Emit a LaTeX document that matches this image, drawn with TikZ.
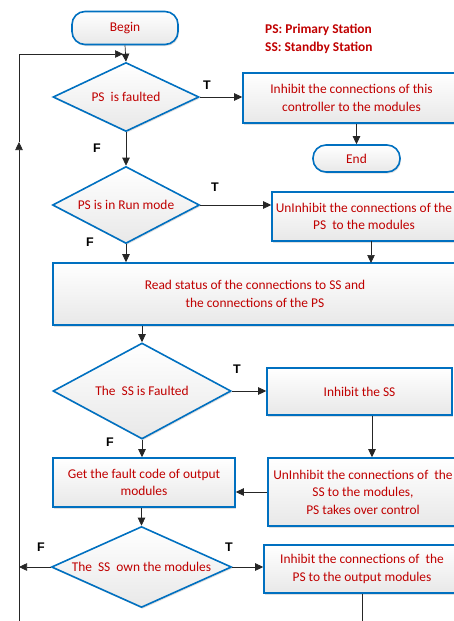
\documentclass[tikz,border=0pt]{standalone}
\usepackage{fontspec}
\setmainfont{Carlito}
\newfontfamily\lblfont{Liberation Sans}
\usetikzlibrary{arrows.meta,shapes.geometric,shadows}
\definecolor{bblue}{RGB}{0,112,192}
\definecolor{dred}{RGB}{192,0,0}
\tikzset{
  shp/.style={draw=bblue, line width=1.6pt, top color=white, bottom color=black!9,
    text=dred, font=\fontsize{13.4}{17.5}\selectfont, align=center, inner sep=1pt,
    drop shadow={shadow xshift=1pt, shadow yshift=-1.5pt, fill=black!25, opacity=0.5}},
  boxn/.style={shp, rectangle},
  term/.style={shp, rectangle, rounded corners=13pt},
  dec/.style={shp, diamond, inner sep=0pt},
  dtext/.style={text=dred, font=\fontsize{13.4}{17.5}\selectfont, align=center, inner sep=0pt},
  arr/.style={-{Triangle[length=8pt,width=7.5pt]}, line width=0.7pt, black!85},
  ln/.style={line width=0.7pt, black!85},
  lbl/.style={font=\lblfont\bfseries\fontsize{12.5}{14}\selectfont, text=black},
  legend/.style={font=\bfseries\fontsize{13.4}{16}\selectfont, text=dred, anchor=west, inner sep=0pt}
}
\begin{document}
\begin{tikzpicture}[x=1pt,y=-1pt]
\useasboundingbox (0,0) rectangle (454,621);
\clip (0,0) rectangle (454,621);
% nodes
\node[term, minimum width=106pt, minimum height=33pt] (begin) at (125,28) {Begin};
\node[legend] (leg1) at (265,30) {PS: Primary Station};
\node[legend] (leg2) at (265,48) {SS: Standby Station};
\node[dec, minimum width=146pt, minimum height=69pt] (d1) at (126,97) {};
\node[dtext] (d1t) at (d1) {PS\ \ is faulted};
\node[boxn, minimum width=217pt, minimum height=50pt] (b1) at (351.5,98) {Inhibit the connections of this\\controller to the modules};
\node[term, minimum width=87pt, minimum height=27pt] (end) at (356.5,158.5) {End};
\node[dec, minimum width=147pt, minimum height=77pt] (d2) at (126,205) {};
\node[dtext] (d2t) at (d2) {PS is in Run mode};
\node[boxn, minimum width=184pt, minimum height=49pt] (b2) at (364,216.5) {UnInhibit the connections of the\\PS\ \ to the modules};
\node[boxn, minimum width=404pt, minimum height=62pt] (b3) at (255,294) {Read status of the connections to SS and\\the connections of the PS};
\node[dec, minimum width=178pt, minimum height=96pt] (d3) at (142,391) {};
\node[dtext] (d3t) at (d3) {The\ \ SS is Faulted};
\node[boxn, minimum width=185pt, minimum height=47pt] (b4) at (359.5,391.5) {Inhibit the SS};
\node[boxn, minimum width=182pt, minimum height=49pt] (b6) at (144,482.5) {Get the fault code of output\\modules};
\node[boxn, minimum width=190pt, minimum height=68pt] (b5) at (363,492) {UnInhibit the connections of\ \ the\\SS to the modules,\\PS takes over control};
\node[dec, minimum width=180pt, minimum height=81pt] (d4) at (141.5,567) {};
\node[dtext] (d4t) at (d4) {The\ \ SS\ \ own the modules};
\node[boxn, minimum width=196pt, minimum height=48pt] (b7) at (362,569) {Inhibit the connections of\ \ the\\PS to the output modules};
% labels
\node[lbl] (t1) at (207,85) {T};
\node[lbl] (f1) at (97,148) {F};
\node[lbl] (t2) at (215,187) {T};
\node[lbl] (f2) at (90,242) {F};
\node[lbl] (t3) at (237,369) {T};
\node[lbl] (f3) at (110,442) {F};
\node[lbl] (f4) at (41,547) {F};
\node[lbl] (t4) at (229,547) {T};
% helper coordinates
\coordinate (lb) at (19,621);
\coordinate (lup) at (19,142);
\coordinate (lt) at (19,54);
\coordinate (ljoin) at (123,54);
\coordinate (lmid) at (19,567);
\coordinate (b7end) at (362,621);
% connectors
\draw[arr] (begin.south) -- (d1.north);
\draw[arr] (lb) -- (lup);
\draw[arr] (lup) -- (lt) -- (ljoin);
\draw[arr] (d1.east) -- (d1.east -| b1.west);
\draw[arr] (b1.south -| end.north) -- (end.north);
\draw[arr] (d1.south) -- (d2.north);
\draw[arr] (d2.east) -- (d2.east -| b2.west);
\draw[arr] (d2.south) -- (d2.south |- b3.north);
\draw[arr] (371,241) -- (371,263);
\draw[arr] (d3.north |- b3.south) -- (d3.north);
\draw[arr] (d3.east) -- (d3.east -| b4.west);
\draw[arr] (b4.south -| 372,0) -- (b5.north -| 372,0);
\draw[arr] (d3.south) -- (d3.south |- b6.north);
\draw[arr] (b5.west) -- (b5.west -| b6.east);
\draw[arr] (d4.north |- b6.south) -- (d4.north);
\draw[arr] (d4.west) -- (lmid);
\draw[arr] (d4.east) -- (d4.east -| b7.west);
\draw[ln] (b7.south) -- (b7end);
\end{tikzpicture}
\end{document}
